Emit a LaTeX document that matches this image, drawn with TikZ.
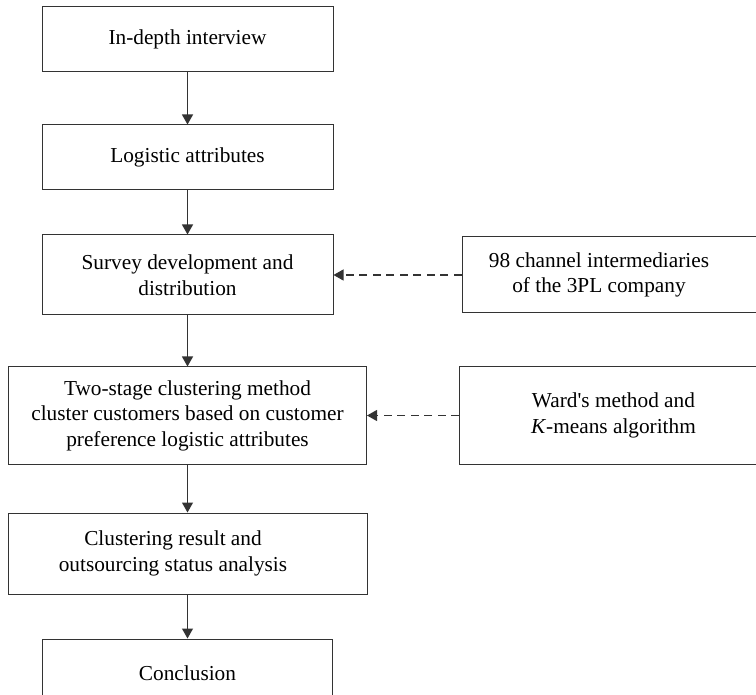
\documentclass[tikz,border=0pt]{standalone}
\usepackage{fontspec}
\setmainfont{Liberation Serif}[Ligatures=TeXOff]
\usetikzlibrary{positioning,arrows.meta}

\tikzset{
  box/.style={draw=black!80, line width=1pt, rectangle, inner sep=0pt, align=center,
    font=\fontsize{21.3}{25.5}\selectfont},
  flow/.style={draw=black!80, line width=1.1pt, -{Triangle[length=10pt,width=11pt]}},
  feed/.style={flow, dash pattern=on 8pt off 5.5pt},
}

\begin{document}
\begin{tikzpicture}[x=1pt,y=1pt]
            \useasboundingbox (0,0) rectangle (756,-695);
            \clip (0,0) rectangle (756,-695);
            \draw node[box, minimum width=291pt, minimum height=65pt] (b1) at (187.5,-39.5) {In-depth interview} ;
            \draw node[box, minimum width=291pt, minimum height=65pt, below=52pt of b1] (b2) {Logistic attributes} ;
            \draw node[box, minimum width=291pt, minimum height=80pt, below=44pt of b2] (b3)
                 {Survey development and\\ distribution} ;
            \draw node[box, minimum width=358pt, minimum height=97pt, below=51pt of b3] (b4)
                 {Two-stage clustering method\\ cluster customers based on customer\\ preference logistic attributes} ;
            \draw node[box, minimum width=359pt, minimum height=81pt, below=48pt of b4] (b5)
                 {Clustering result and\hspace*{29pt}\\ outsourcing status analysis\hspace*{29pt}} ;
            \draw node[box, minimum width=290pt, minimum height=68pt, below=44pt of b5] (b6) {Conclusion} ;
            \draw node[box, minimum width=300pt, minimum height=76pt, right=128pt of b3] (r1)
                 {98 channel intermediaries\hspace*{26pt}\\ of the 3PL company\hspace*{26pt}} ;
            \draw node[box, minimum width=308pt, minimum height=97pt, right=92pt of b4] (r2)
                 {Ward's method and\\ \textit{K}-means algorithm} ;
            \draw[flow] (b1) -- (b2) ;
            \draw[flow] (b2) -- (b3) ;
            \draw[flow] (b3) -- (b4) ;
            \draw[flow] (b4) -- (b5) ;
            \draw[flow] (b5) -- (b6) ;
            \draw[feed] (r1) -- (b3) ;
            \draw[feed] (r2) -- (b4) ;
        \end{tikzpicture}
\end{document}
